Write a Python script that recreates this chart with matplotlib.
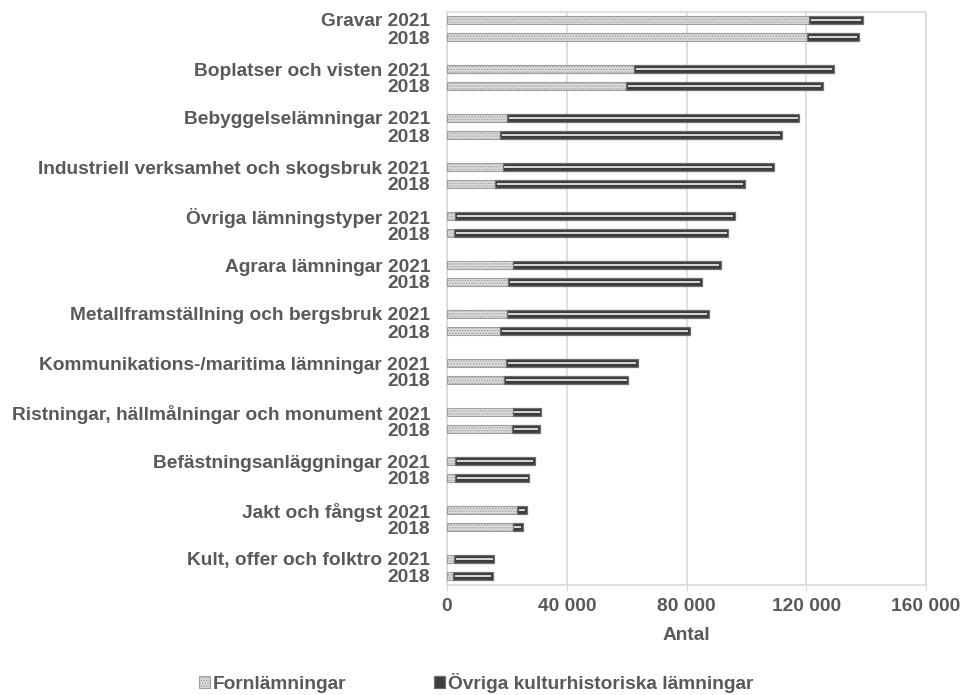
import matplotlib
matplotlib.use("Agg")
import matplotlib.pyplot as plt
import numpy as np
from matplotlib.patches import Patch
from matplotlib.ticker import FuncFormatter

categories = [
    "Gravar",
    "Boplatser och visten",
    "Bebyggelselämningar",
    "Industriell verksamhet och skogsbruk",
    "Övriga lämningstyper",
    "Agrara lämningar",
    "Metallframställning och bergsbruk",
    "Kommunikations-/maritima lämningar",
    "Ristningar, hällmålningar och monument",
    "Befästningsanläggningar",
    "Jakt och fångst",
    "Kult, offer och folktro",
]
years = ["2021", "2018"]

# Fornlämningar
forn_2021 = [121000, 62500, 20000, 18600, 2700, 21900, 19900, 19700, 21900, 2700, 23400, 2300]
forn_2018 = [120200, 59800, 17700, 16100, 2400, 20400, 17800, 19000, 21700, 2600, 21900, 2100]
# Övriga kulturhistoriska lämningar
ovr_2021 = [17800, 66800, 97700, 90600, 93400, 69500, 67700, 44000, 9600, 26600, 3400, 13500]
ovr_2018 = [17500, 65700, 94100, 83400, 91600, 64800, 63300, 41600, 9400, 24900, 3400, 13200]

xticks = [0, 40000, 80000, 120000, 160000]
legend_labels = ["Fornlämningar", "Övriga kulturhistoriska lämningar"]

plt.rcParams["font.family"] = ["Liberation Sans", "DejaVu Sans"]
plt.rcParams["hatch.linewidth"] = 0.7
TXT = "#595959"
FS = 13.8
FORN_FC, FORN_EC = "#dcdcdc", "#a0a0a0"
OVR_FC, OVR_EC = "#3d3d3d", "#707070"

fig = plt.figure(figsize=(9.62, 6.95), dpi=100)
ax = fig.add_axes([447/962, 1-585/695, (926-447)/962, (585-12)/695])

period, offset, bh = 49.0, 17.0, 8.5
g = np.arange(len(categories))
y21 = g*period
y18 = g*period + offset
ys = np.concatenate([y21, y18])
forn = np.array(forn_2021 + forn_2018)
ovr = np.array(ovr_2021 + ovr_2018)

ax.barh(ys, forn, height=bh, color=FORN_FC, edgecolor=FORN_EC, hatch="......", linewidth=0.8, zorder=3)
ax.barh(ys, ovr, left=forn, height=bh, color=OVR_FC, edgecolor=OVR_EC, linewidth=0.9, zorder=3)
ax.barh(ys, ovr - 1200, left=forn + 600, height=1.5, color="#d4d4d4", linewidth=0, zorder=4)

ax.set_xlim(0, 160000)
ax.set_ylim(565, -8)
ax.set_xticks(xticks)
ax.xaxis.set_major_formatter(FuncFormatter(lambda v, p: f"{int(v):,}".replace(",", " ")))
ax.grid(axis="x", color="#d9d9d9", linewidth=1.2, zorder=0)
ax.set_axisbelow(True)

ylabels = [f"{c} {years[0]}" for c in categories] + [years[1]] * len(categories)
ax.set_yticks(ys)
ax.set_yticklabels(ylabels)
ax.tick_params(axis="y", length=0, pad=12.2)
ax.tick_params(axis="x", length=4, color="#d9d9d9", pad=5.2)
for lab in ax.get_yticklabels() + ax.get_xticklabels():
    lab.set_fontweight("bold")
    lab.set_color(TXT)
    lab.set_fontsize(FS)

for s in ax.spines.values():
    s.set_color("#d9d9d9")
    s.set_linewidth(1.2)

ax.set_xlabel("Antal", fontsize=FS, fontweight="bold", color=TXT, labelpad=8.5)

handles = [
    Patch(facecolor=FORN_FC, edgecolor=FORN_EC, hatch="......", linewidth=0.8),
    Patch(facecolor=OVR_FC, edgecolor=OVR_EC, linewidth=0.9),
]
leg = fig.legend(handles, legend_labels, loc="center", bbox_to_anchor=(476/962, 1-683/695),
                 ncol=2, frameon=False, handlelength=0.55, handleheight=0.55, handletextpad=0.15,
                 columnspacing=4.6, borderpad=0, prop={"weight": "bold", "size": FS})
for t in leg.get_texts():
    t.set_color(TXT)

fig.savefig("out.png", dpi=100)
